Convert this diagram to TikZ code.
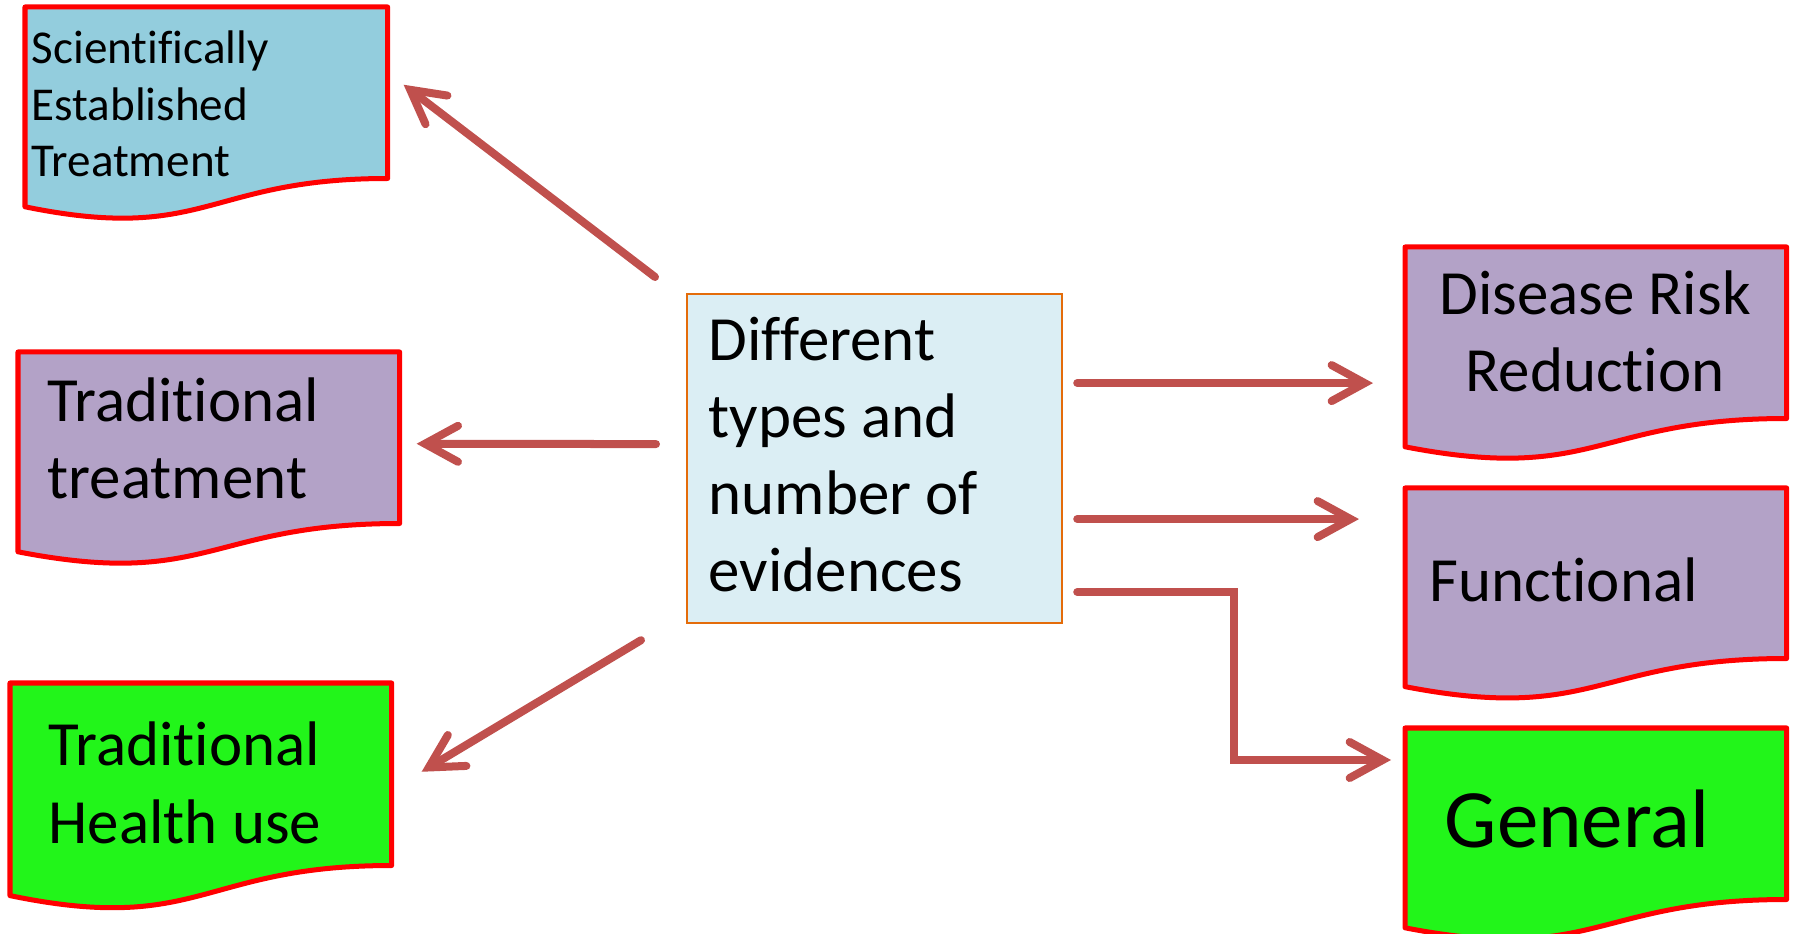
\documentclass[tikz,border=0pt]{standalone}
\usepackage{fontspec}
\setmainfont{Carlito}[Ligatures=NoCommon]
\usepackage{tikz}
\usetikzlibrary{positioning}
\usetikzlibrary{calc}
\usetikzlibrary{arrows.meta}

\definecolor{arrowred}{HTML}{C0504D}
\definecolor{boxred}{HTML}{FF0000}
\definecolor{setblue}{HTML}{93CDDD}
\definecolor{lilac}{HTML}{B3A2C7}
\definecolor{brightgreen}{HTML}{22F51A}
\definecolor{evfill}{HTML}{DBEEF4}
\definecolor{evline}{HTML}{E46C0A}

% outline of a document shape drawn round an empty node
\newcommand\wavydoc[2]{%
  \draw[docline, fill=#2] (#1.north west) -- (#1.north east) -- (#1.south east)
    .. controls (#1.south) and ($(#1.south)!-0.381!(#1.north)$) .. ($(#1.south west)!-0.165!(#1.north west)$) -- cycle;
}

\begin{document}
\begin{tikzpicture}[x=0.01cm, y=-0.01cm,
  docbox/.style={rectangle, anchor=north west, inner sep=0pt, minimum width=3.8cm, minimum height=1.7cm},
  docline/.style={draw=boxred, line width=0.05cm, line join=round},
  evbox/.style={rectangle, anchor=north west, draw=evline, fill=evfill, line width=0.02cm, minimum width=3.75cm, minimum height=3.29cm},
  lbl/.style={anchor=base west, inner sep=0pt, align=left},
  smallfs/.style={font=\fontsize{13.4pt}{16.2pt}\selectfont},
  midfs/.style={font=\fontsize{17.9pt}{21.9pt}\selectfont},
  bigfs/.style={font=\fontsize{23.6pt}{28pt}\selectfont},
  arr/.style={draw=arrowred, line width=0.08cm, line cap=round, line join=miter, -{Straight Barb[length=3.3mm, width=3.6mm, line cap=round]}}]
  \useasboundingbox (0,0) rectangle (1794,934);

  % boxes
  \node[docbox, minimum width=3.61cm] (set) at (25,7) {};
  \node[docbox] (trt) at (18,352) {};
  \node[docbox, minimum height=1.81cm] (thu) at (10,683) {};
  \node[docbox] (drr) at (1405,247) {};
  \node[docbox, minimum height=1.69cm] (fun) at (1405,488) {};
  \node[docbox] (gen) at (1405,728) {};
  \wavydoc{set}{setblue}
  \wavydoc{trt}{lilac}
  \wavydoc{thu}{brightgreen}
  \wavydoc{drr}{lilac}
  \wavydoc{fun}{lilac}
  \wavydoc{gen}{brightgreen}
  \node[evbox] (ev) at (686,293) {};

  % texts (base = last line)
  \node[lbl, smallfs] (settxt) at (31,177) {Scientifically\\Established\\Treatment};
  \node[lbl, midfs] (trttxt) at (47,499) {Traditional\\treatment};
  \node[lbl, midfs] (thutxt) at (48,843) {Traditional\\Health use};
  \node[lbl, midfs] (evtxt) at (708,592) {Different\\types and\\number of\\evidences};
  \node[anchor=base, inner sep=0pt, align=center, midfs] (drrtxt) at (1595,392) {Disease Risk\\Reduction};
  \node[lbl, midfs] (funtxt) at (1429,602) {Functional};
  \node[lbl, bigfs] (gentxt) at (1444,847) {General};

  % arrows
  \coordinate (a4) at ([shift={(14,-75.5)}]ev.east);
  \coordinate (a5) at ([shift={(14,60.5)}]ev.east);
  \coordinate (a6) at ([shift={(14,133.5)}]ev.east);
  \coordinate (g6) at ([shift={(-14,32)}]gen.north west);
  \draw[arr] ([shift={(-31,-16)}]ev.north west) -- ([shift={(16,-8)}]set.east);
  \draw[arr] ([shift={(-30,-14.5)}]ev.west) -- ([shift={(17,6)}]trt.east);
  \draw[arr] ([shift={(-45,16)}]ev.south west) -- ([shift={(30,-2.5)}]thu.east);
  \draw[arr, shorten >=3.2mm] (a4) -- (a4 -| drr.west);
  \draw[arr, shorten >=4.6mm] (a5) -- (a5 -| fun.west);
  \draw[arr] (a6) -| ($(a6)!.5!(g6)$) |- (g6);
\end{tikzpicture}
\end{document}
